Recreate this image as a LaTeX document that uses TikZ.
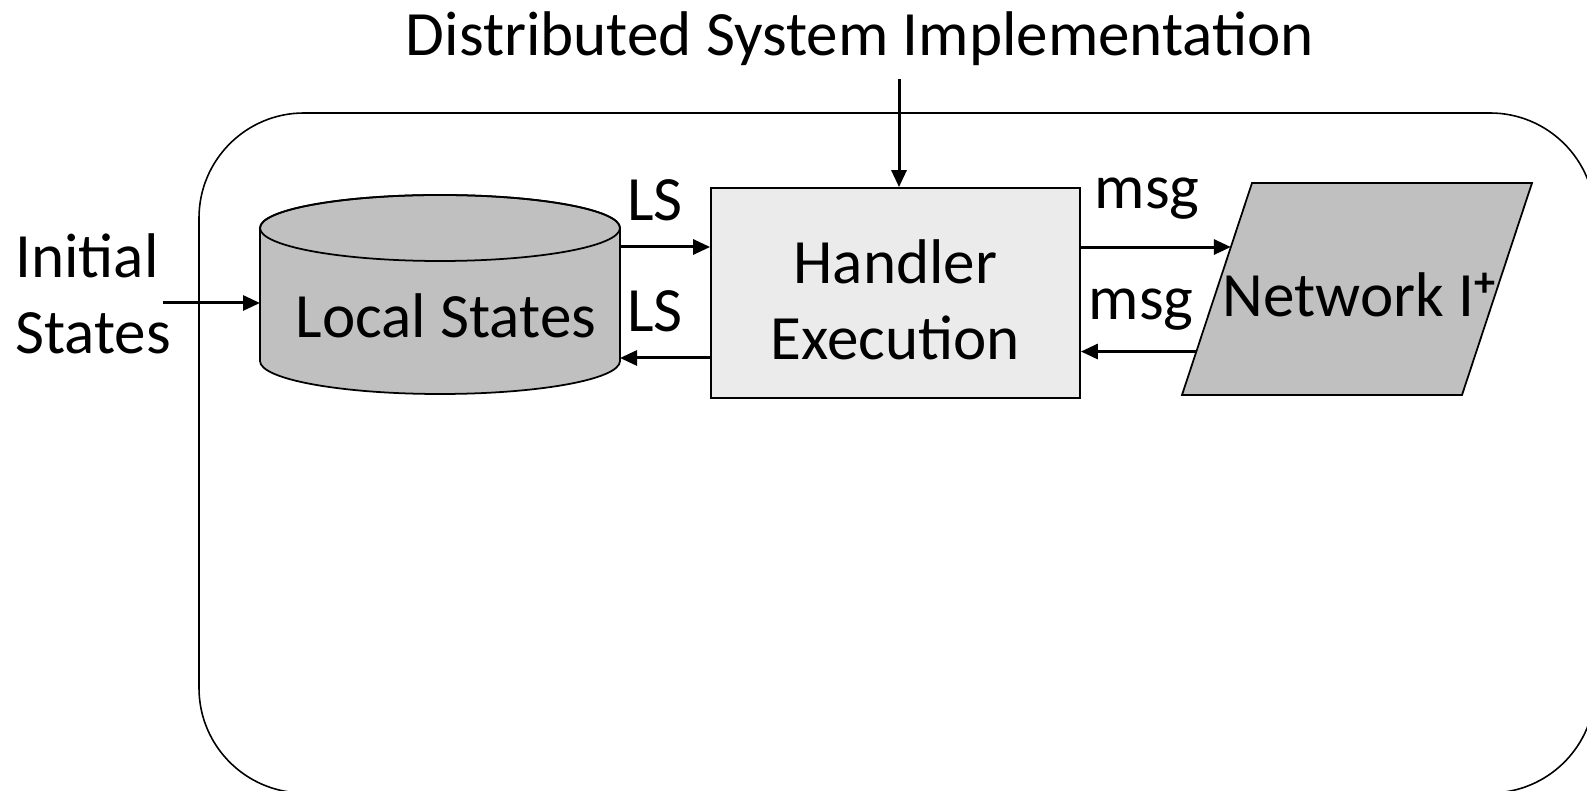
\documentclass[tikz,border=0pt]{standalone}
\usepackage{fontspec}
\setmainfont{Carlito}
\usepackage{tikz}
\usetikzlibrary{arrows.meta}
\usetikzlibrary{calc}

\definecolor{storegray}{HTML}{C0C0C0}
\definecolor{boxgray}{HTML}{EBEBEB}

\begin{document}
\begin{tikzpicture}[
    every node/.style={font=\fontsize{35.9}{43.5}\selectfont, inner sep=0pt},
    flow/.style={line width=1.7pt, -{Triangle[length=0.34cm,width=0.3cm]}},
    outline/.style={line width=1pt}
  ]
            \useasboundingbox (0,0) rectangle (31.74,15.82);

            % outer system boundary
            \draw[line width=0.9pt, rounded corners=2.1cm] (3.98,13.56) rectangle (31.9,-0.04);

            \node[anchor=base] (title) at (17.2,14.7) {Distributed System Implementation};
            \coordinate (spec) at (17.98,14.24);

            % local state store
            \filldraw[outline, fill=storegray] (5.2,11.26) -- (5.2,8.6)
                arc[start angle=180, end angle=360, x radius=3.6, y radius=0.66]
                -- (12.4,11.26)
                arc[start angle=0, end angle=180, x radius=3.6, y radius=0.66] -- cycle;
            \draw[outline] (8.8,11.26) ellipse [x radius=3.6, y radius=0.66];
            \node[anchor=base] (ls) at (8.92,9.06) {Local States};
            \coordinate (lsin) at (5.2,9.76);
            \coordinate (lsout) at (12.4,10.88);
            \coordinate (lsback) at (12.4,8.66);

            % handler
            \node[outline, draw, fill=boxgray, minimum width=7.38cm, minimum height=4.2cm] (hx) at (17.91,9.96) {};
            \node[anchor=base, align=center] (hxtext) at (17.91,8.62) {Handler\\Execution};

            % network
            \coordinate (nbl) at (23.64,7.92);
            \coordinate (ntl) at (25.04,12.16);
            \coordinate (ntr) at (30.64,12.16);
            \coordinate (nbr) at (29.24,7.92);
            \filldraw[outline, fill=storegray] (nbl) -- (ntl) -- (ntr) -- (nbr) -- cycle;
            \node[anchor=base] (net) at (27.18,9.48) {Network I\raisebox{0.32em}{\fontsize{24}{24}\selectfont\textbf{+}}};
            \coordinate (netin) at ($(nbl)!0.698!(ntl)$);
            \coordinate (netout) at ($(nbl)!0.205!(ntl)$);

            \node[anchor=base west, align=left] (init) at (0.3,8.74) {Initial\\States};
            \coordinate (initout) at (3.26,9.76);

            \draw[flow] (spec) -- (spec |- hx.north);
            \draw[flow] (initout) -- (lsin);
            \draw[flow] (lsout) -- (lsout -| hx.west);
            \draw[flow] (lsback -| hx.west) -- (lsback);
            \draw[flow] (netin -| hx.east) -- (netin);
            \draw[flow] (netout) -- (netout -| hx.east);

            \node[anchor=base] (lsa) at (13.1,11.4) {LS};
            \node[anchor=base] (lsb) at (13.1,9.18) {LS};
            \node[anchor=base] (msga) at (22.94,11.64) {msg};
            \node[anchor=base] (msgb) at (22.82,9.42) {msg};
        \end{tikzpicture}
\end{document}
